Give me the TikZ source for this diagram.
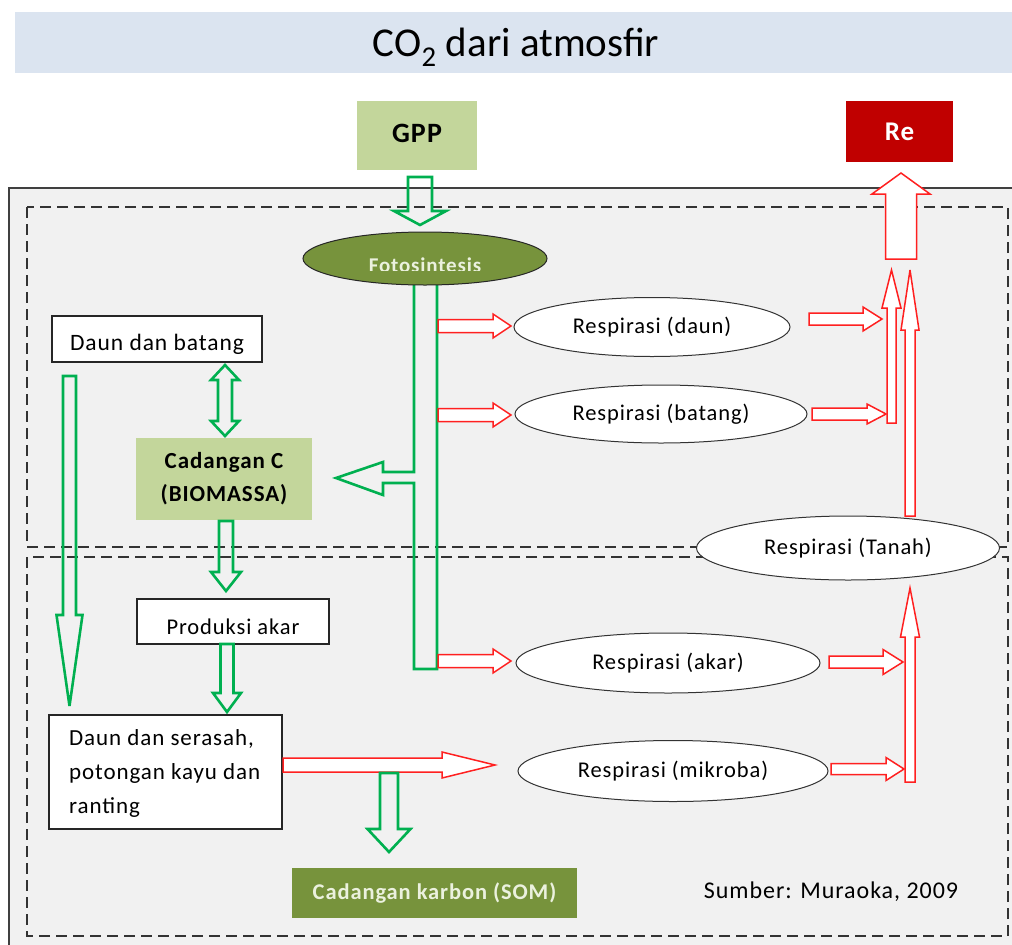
\documentclass[tikz,border=0pt]{standalone}
\usepackage{fontspec}
\setmainfont{Carlito}
\newfontfamily\reg[LetterSpace=4]{Carlito}
\usetikzlibrary{shapes.geometric}
\definecolor{grn}{HTML}{00B050}
\definecolor{rd}{HTML}{FF2020}
\definecolor{bggray}{HTML}{F1F1F1}
\definecolor{titlebg}{HTML}{DBE4F0}
\definecolor{lgreen}{HTML}{C3D69B}
\definecolor{olive}{HTML}{77933C}
\definecolor{dred}{HTML}{C00000}
\definecolor{cream}{HTML}{EBF1DE}
% block arrows: style, ...
\newcommand\blkR[7]{\draw[#1] (#2,{#4-#5}) -- ({#3-#7},{#4-#5}) -- ({#3-#7},{#4-#6}) -- (#3,#4) -- ({#3-#7},{#4+#6}) -- ({#3-#7},{#4+#5}) -- (#2,{#4+#5}) -- cycle;}
\newcommand\blkU[7]{\draw[#1] ({#2-#5},#3) -- ({#2-#5},{#4+#7}) -- ({#2-#6},{#4+#7}) -- (#2,#4) -- ({#2+#6},{#4+#7}) -- ({#2+#5},{#4+#7}) -- ({#2+#5},#3) -- cycle;}
\newcommand\blkD[7]{\draw[#1] ({#2-#5},#3) -- ({#2-#5},{#4-#7}) -- ({#2-#6},{#4-#7}) -- (#2,#4) -- ({#2+#6},{#4-#7}) -- ({#2+#5},{#4-#7}) -- ({#2+#5},#3) -- cycle;}
\newcommand\blkUD[7]{\draw[#1] (#2,#3) -- ({#2+#6},{#3+#7}) -- ({#2+#5},{#3+#7}) -- ({#2+#5},{#4-#7}) -- ({#2+#6},{#4-#7}) -- (#2,#4) -- ({#2-#6},{#4-#7}) -- ({#2-#5},{#4-#7}) -- ({#2-#5},{#3+#7}) -- ({#2-#6},{#3+#7}) -- cycle;}
\tikzset{
  garr/.style={draw=grn, line width=2.6pt, line join=miter, miter limit=6},
  rarr/.style={draw=rd, fill=white, line width=1.5pt, line join=miter, miter limit=6},
  resp/.style={ellipse, draw=black!80, fill=white, line width=1pt, inner sep=0pt},
  wbox/.style={rectangle, draw=black!85, fill=white, line width=1.1pt, inner sep=0pt},
  fbox/.style={rectangle, inner sep=0pt},
  rtxt/.style={inner sep=0pt, font={\reg\fontsize{22.5}{26}\selectfont}},
  btxt/.style={inner sep=0pt, font={\reg\bfseries\fontsize{23}{33}\selectfont}},
  dsh/.style={draw=black!80, line width=1.3pt, dash pattern=on 11pt off 6pt},
}
\begin{document}
\begin{tikzpicture}[x=1pt,y=-1pt]
\useasboundingbox (0,0) rectangle (1012,945);
\clip (0,0) rectangle (1012,945);
% title
\fill[titlebg] (15,12) rectangle (1012,73);
\node[inner sep=0pt, font={\fontsize{41}{44}\selectfont}] (title) at (516,47) {CO\textsubscript{2} dari atmosfir};
% outer and dashed boxes
\draw[fill=bggray, draw=black!75, line width=1.2pt] (9,188) rectangle (1040,980);
\draw[dsh] (27,207) rectangle (1008,547);
\draw[dsh] (27,557) rectangle (1008,936);
% top boxes
\node[fbox, fill=lgreen, minimum width=120pt, minimum height=69pt] (gpp) at (417,135.5) {};
\node[btxt, font={\reg\bfseries\fontsize{28}{30}\selectfont}] at ([yshift=2pt]gpp.center) {GPP};
\node[fbox, fill=dred, minimum width=107pt, minimum height=61pt] (re) at (899.5,131.5) {};
\node[btxt, text=white, font={\reg\bfseries\fontsize{27}{30}\selectfont}] at (re.center) {Re};
% GPP -> Fotosintesis
\blkD{garr}{420}{177}{225}{12}{26}{14}
% T-bar with branch to Cadangan C
\draw[garr] (414,280) -- (437,280) -- (437,669) -- (414,669) -- (414,483) -- (383,483) -- (383,495) -- (336,478) -- (383,462) -- (383,472) -- (414,472) -- cycle;
% Fotosintesis
\node[ellipse, draw=black!85, fill=olive, line width=1pt, minimum width=244pt, minimum height=53pt, inner sep=0pt] (foto) at (425,258.5) {};
\begin{scope}
\clip (303,232) rectangle (547,270.5);
\node[btxt, text=cream, font={\reg\bfseries\fontsize{21}{24}\selectfont}] at ([yshift=-6.5pt]foto.center) {Fotosintesis};
\end{scope}
% red arrows from bar
\blkR{rarr}{438}{511}{326}{6.5}{12}{18}
\blkR{rarr}{438}{511}{415}{6.5}{12}{18}
\blkR{rarr}{438}{511}{661}{6.5}{12}{18}
% respiration ellipses
\node[resp, minimum width=276pt, minimum height=59pt] (rdaun) at (652,327) {};
\node[rtxt] at (rdaun.center) {Respirasi (daun)};
\node[resp, minimum width=292pt, minimum height=58pt] (rbatang) at (661,414) {};
\node[rtxt] at (rbatang.center) {Respirasi (batang)};
\node[resp, minimum width=304pt, minimum height=60pt] (rakar) at (668,663) {};
\node[rtxt] at (rakar.center) {Respirasi (akar)};
\node[resp, minimum width=310pt, minimum height=61pt] (rmikroba) at (673,771) {};
\node[rtxt] at (rmikroba.center) {Respirasi (mikroba)};
% right column arrows (upper)
\blkR{rarr}{809}{882}{319}{6}{12}{19}
\blkR{rarr}{812}{886}{414}{6}{10}{19}
\blkU{rarr}{891.5}{423}{270}{4.5}{9.5}{38}
\blkU{rarr}{910}{516}{270}{5}{9}{60}
\blkU{rarr}{901}{259}{173}{15.5}{29}{21}
% Tanah ellipse
\node[resp, minimum width=303pt, minimum height=64pt] (rtanah) at (848,548) {};
\node[rtxt] at (rtanah.center) {Respirasi (Tanah)};
% right column arrows (lower)
\blkR{rarr}{829}{903}{662}{6}{12.5}{20}
\blkR{rarr}{831}{904}{769}{5.5}{11.5}{18}
\blkU{rarr}{910}{782}{588}{5}{9.5}{49}
% left side boxes
\node[wbox, minimum width=210pt, minimum height=46pt] (dbt) at (157,339) {};
\node[rtxt, font={\reg\fontsize{23.5}{26}\selectfont}] at ([yshift=-5pt]dbt.center) {Daun dan batang};
\blkUD{garr}{225}{365}{436}{7}{14}{15}
\node[fbox, fill=lgreen, minimum width=176pt, minimum height=82pt] (cad) at (224,479) {};
\node[btxt, align=center] at (cad.center) {Cadangan C\\(BIOMASSA)};
\blkD{garr}{226}{521}{591}{7}{15}{19}
\node[wbox, minimum width=192pt, minimum height=45pt] (prod) at (233,621.5) {};
\node[rtxt, font={\reg\fontsize{22.5}{26}\selectfont}] at ([yshift=-5pt]prod.center) {Produksi akar};
\blkD{garr}{227}{644}{712}{6.5}{14}{19}
\blkD{garr}{69.5}{376}{706}{6.5}{13}{91}
\node[wbox, minimum width=233pt, minimum height=114pt] (dsr) at (165.5,772) {};
\begin{scope}
\clip (50,716) rectangle (281,820);
\node[rtxt, font={\reg\fontsize{23}{34}\selectfont}, align=left, anchor=north west] at (69,729) {Daun dan serasah,\\potongan kayu dan\\ranting};
\end{scope}
\blkR{rarr}{283}{495}{765}{7}{13}{53}
\blkD{garr}{389}{773}{852}{9}{21.5}{23}
% SOM
\node[fbox, fill=olive, minimum width=285pt, minimum height=50pt] (som) at (434.5,893) {};
\node[btxt, text=cream, font={\reg\bfseries\fontsize{22.5}{24}\selectfont}] at (som.center) {Cadangan karbon (SOM)};
\node[rtxt, font={\reg\fontsize{24}{28}\selectfont}] (src) at (831,892) {Sumber: Muraoka, 2009};
\end{tikzpicture}
\end{document}
